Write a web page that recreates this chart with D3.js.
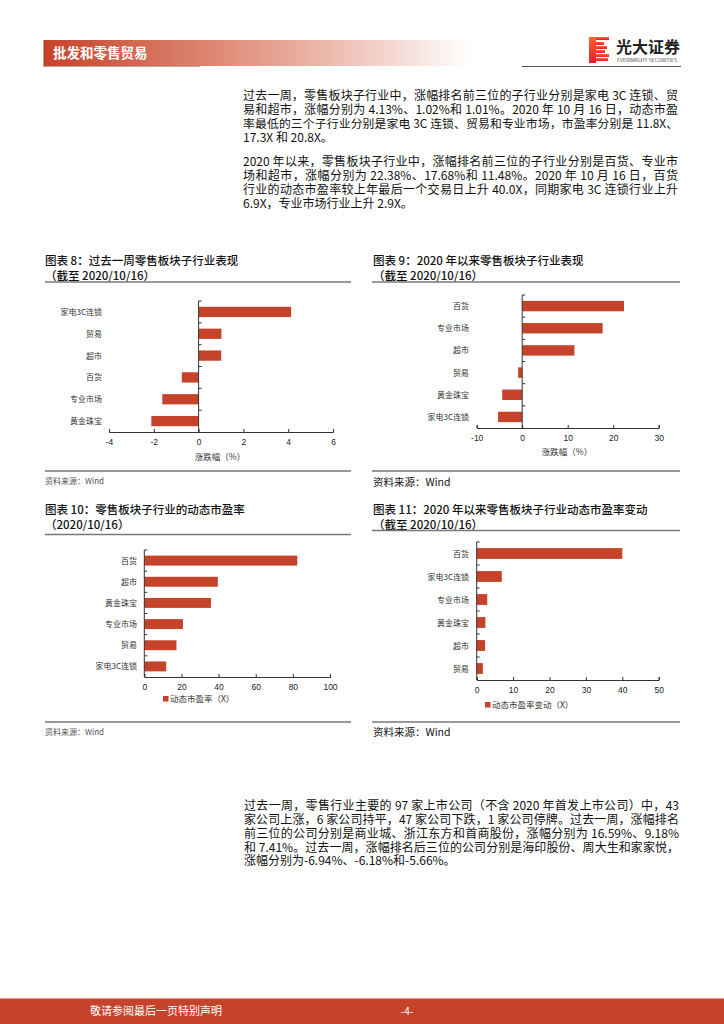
<!DOCTYPE html>
<html><head><meta charset="utf-8">
<script src="https://cdn.jsdelivr.net/npm/d3@7"></script>
<style>
body{margin:0;background:#fff;position:relative;width:724px;height:1024px;overflow:hidden;}
svg{display:block;font-family:"Noto Sans CJK SC","Noto Sans",sans-serif;}
.pline{position:absolute;width:435px;height:13.9px;line-height:13.9px;font-size:12px;color:#111;
  font-family:"Noto Sans CJK SC","Noto Sans",sans-serif;white-space:nowrap;text-align:left;}
.pline.just{text-align:justify;text-align-last:justify;text-justify:inter-character;}
</style></head><body>
<svg id="page" width="724" height="1024"></svg>
<script>
// ---------- data ----------
const weekCategories = ["家电3C连锁","贸易","超市","百货","专业市场","黄金珠宝"];
const weekChange = [4.13, 1.02, 1.01, -0.75, -1.62, -2.11];
const weekTicks = [-4, -2, 0, 2, 4, 6];

const ytdCategories = ["百货","专业市场","超市","贸易","黄金珠宝","家电3C连锁"];
const ytdChange = [22.38, 17.68, 11.48, -0.9, -4.4, -5.3];
const ytdTicks = [-10, 0, 10, 20, 30];

const peCategories = ["百货","超市","黄金珠宝","专业市场","贸易","家电3C连锁"];
const peValues = [82.4, 39.6, 35.9, 20.8, 17.3, 11.8];
const peTicks = [0, 20, 40, 60, 80, 100];

const peChangeCategories = ["百货","家电3C连锁","专业市场","黄金珠宝","超市","贸易"];
const peChangeValues = [40.0, 6.9, 2.9, 2.4, 2.3, 1.7];
const peChangeTicks = [0, 10, 20, 30, 40, 50];

const para1 = [
  "过去一周，零售板块子行业中，涨幅排名前三位的子行业分别是家电 3C 连锁、贸",
  "易和超市，涨幅分别为 4.13%、1.02%和 1.01%。2020 年 10 月 16 日，动态市盈",
  "率最低的三个子行业分别是家电 3C 连锁、贸易和专业市场，市盈率分别是 11.8X、",
  "17.3X 和 20.8X。"
];
const para2 = [
  "2020 年以来，零售板块子行业中，涨幅排名前三位的子行业分别是百货、专业市",
  "场和超市，涨幅分别为 22.38%、17.68%和 11.48%。2020 年 10 月 16 日，百货",
  "行业的动态市盈率较上年最后一个交易日上升 40.0X，同期家电 3C 连锁行业上升",
  "6.9X，专业市场行业上升 2.9X。"
];
const para3 = [
  "过去一周，零售行业主要的 97 家上市公司（不含 2020 年首发上市公司）中，43",
  "家公司上涨，6 家公司持平，47 家公司下跌，1 家公司停牌。过去一周，涨幅排名",
  "前三位的公司分别是商业城、浙江东方和首商股份，涨幅分别为 16.59%、9.18%",
  "和 7.41%。过去一周，涨幅排名后三位的公司分别是海印股份、周大生和家家悦，",
  "涨幅分别为-6.94%、-6.18%和-5.66%。"
];

// ---------- page ----------
const RED = "#C5432A";
const svg = d3.select("#page");
const defs = svg.append("defs");
const grad = defs.append("linearGradient").attr("id","hdr").attr("x1","0").attr("x2","1").attr("y1","0").attr("y2","0");
[[0,"#C4432A"],[0.35,"#DA806A"],[0.65,"#EBB7A9"],[0.85,"#F6E0DA"],[1,"#FFFFFF"]].forEach(s=>grad.append("stop").attr("offset",s[0]).attr("stop-color",s[1]));
const lg = defs.append("linearGradient").attr("id","logo").attr("x1","0").attr("x2","0").attr("y1","0").attr("y2","1");
[[0,"#F26B2A"],[1,"#E0202A"]].forEach(s=>lg.append("stop").attr("offset",s[0]).attr("stop-color",s[1]));

// header
svg.append("rect").attr("x",44).attr("y",40).attr("width",428).attr("height",26).attr("fill","url(#hdr)");
svg.append("line").attr("x1",44).attr("x2",44).attr("y1",40).attr("y2",66).attr("stroke","#A8301C").attr("stroke-width",1);
svg.append("line").attr("x1",43).attr("x2",200).attr("y1",66.5).attr("y2",66.5).attr("stroke","#8a6a60").attr("stroke-width",0.6);
svg.append("text").attr("x",53).attr("y",58).attr("fill","#fff").attr("font-size",13.5).attr("font-weight",700).text("批发和零售贸易");

// logo
const logo = svg.append("g");
logo.append("rect").attr("x",589).attr("y",37).attr("width",7).attr("height",26).attr("fill","url(#logo)");
[[37,17],[42,12],[46,15],[50,13],[54,17],[58,16]].forEach(r=>{
  logo.append("rect").attr("x",596).attr("y",r[0]).attr("width",r[1]-4).attr("height",3).attr("fill","url(#logo)");
});
logo.append("text").attr("x",616).attr("y",53).attr("font-size",16).attr("font-weight",700).attr("fill","#222").text("光大证券");
logo.append("text").attr("x",617).attr("y",61.5).attr("font-size",4.2).attr("fill","#444").attr("textLength",60).attr("lengthAdjust","spacingAndGlyphs").text("EVERBRIGHT SECURITIES");
svg.append("line").attr("x1",522).attr("x2",681).attr("y1",66.5).attr("y2",66.5).attr("stroke","#555").attr("stroke-width",1.2);

// paragraphs as HTML line boxes (justified, line box = line pitch)
function paragraph(lines, x, baseline0, dy, width){
  lines.forEach((t,i)=>{
    const div = d3.select("body").append("div").attr("class","pline" + (i < lines.length-1 ? " just" : ""))
      .style("left", x+"px").style("top", (baseline0 + i*dy - 12.2)+"px");
    const span = div.append("span").text(t);
    const w = span.node().getBoundingClientRect().width;
    if(w > width) div.style("font-size", (12*width/w*0.99)+"px");
    span.remove();
    div.text(t);
  });
}
paragraph(para1, 243, 100, 13.9, 435);
paragraph(para2, 243, 166, 13.9, 435);
paragraph(para3, 244, 810, 13.9, 435);

// chart frame text
function frame(o){
  o.titles.forEach((t,i)=>svg.append("text").attr("x",o.tx).attr("y",o.ty+i*14.5).attr("font-size",11.5).attr("font-weight",500).attr("fill","#111").text(t));
  svg.append("line").attr("x1",o.rx0).attr("x2",o.rx1).attr("y1",o.ruleTop).attr("y2",o.ruleTop).attr("stroke","#777").attr("stroke-width",1.3);
  svg.append("line").attr("x1",o.rx0).attr("x2",o.rx1).attr("y1",o.ruleBot).attr("y2",o.ruleBot).attr("stroke","#777").attr("stroke-width",1.3);
  svg.append("text").attr("x",o.tx).attr("y",o.srcY).attr("font-size",o.srcSize).attr("fill",o.srcColor).text("资料来源：Wind");
}

function barChart(o){
  const g = svg.append("g");
  const x = d3.scaleLinear().domain([o.ticks[0], o.ticks[o.ticks.length-1]]).range([o.x0, o.x1]);
  const y = d3.scaleBand().domain(o.cats).range([o.yTop, o.yBot]).paddingInner(0.53).paddingOuter(0.265);
  g.selectAll("rect.bar").data(o.vals).enter().append("rect")
    .attr("x",(d)=>x(Math.min(0,d)))
    .attr("y",(d,i)=>y(o.cats[i]))
    .attr("width",(d)=>Math.abs(x(d)-x(0)))
    .attr("height",y.bandwidth())
    .attr("fill",RED);
  // x axis
  const ax = g.append("g").attr("transform",`translate(0,${o.yBot})`)
    .call(d3.axisBottom(x).tickValues(o.ticks).tickSizeInner(-3).tickSizeOuter(-3).tickPadding(7).tickFormat(d=>String(d)));
  ax.select(".domain").attr("stroke","#333");
  ax.selectAll(".tick line").attr("stroke","#333");
  ax.selectAll("text").attr("font-size",8.5).attr("fill","#222").attr("font-family",'"Liberation Sans",Arial,sans-serif');
  // y axis at zero
  const zx = x(0);
  g.append("line").attr("x1",zx).attr("x2",zx).attr("y1",o.yTop).attr("y2",o.yBot).attr("stroke","#333");
  const step = y.step();
  for(let i=0;i<o.cats.length;i++){
    const yy = o.yTop + i*step;
    g.append("line").attr("x1",zx).attr("x2",zx+3).attr("y1",yy).attr("y2",yy).attr("stroke","#333");
  }
  // category labels
  g.selectAll("text.cat").data(o.cats).enter().append("text")
    .attr("x",o.labelX).attr("y",(d)=>y(d)+y.bandwidth()/2+3)
    .attr("text-anchor","end").attr("font-size",8).attr("fill","#333").text(d=>d);
  if(o.axisTitle){
    g.append("text").attr("x",o.axisTitle.x).attr("y",o.axisTitle.y).attr("text-anchor","middle")
      .attr("font-size",8.5).attr("fill","#333").text(o.axisTitle.text);
  }
  if(o.legend){
    g.append("rect").attr("x",o.legend.x).attr("y",o.legend.y-3).attr("width",5.5).attr("height",5.5).attr("fill",RED);
    g.append("text").attr("x",o.legend.x+7).attr("y",o.legend.y+3).attr("font-size",8.5).attr("fill","#333").text(o.legend.text);
  }
}

// Chart 8
frame({titles:["图表 8：过去一周零售板块子行业表现","（截至 2020/10/16）"],tx:45,ty:265,rx0:45,rx1:351,ruleTop:282,ruleBot:471,srcY:484,srcSize:8,srcColor:"#555"});
barChart({cats:weekCategories,vals:weekChange,ticks:weekTicks,x0:109,x1:333,yTop:301,yBot:432,labelX:102,
  axisTitle:{x:220,y:460,text:"涨跌幅（%）"}});

// Chart 9
frame({titles:["图表 9：2020 年以来零售板块子行业表现","（截至 2020/10/16）"],tx:373,ty:265,rx0:372,rx1:680,ruleTop:282,ruleBot:471,srcY:486,srcSize:10.5,srcColor:"#111"});
barChart({cats:ytdCategories,vals:ytdChange,ticks:ytdTicks,x0:476.7,x1:658.7,yTop:295,yBot:428,labelX:469,
  axisTitle:{x:567,y:455,text:"涨跌幅（%）"}});

// Chart 10
frame({titles:["图表 10：零售板块子行业的动态市盈率","（2020/10/16）"],tx:45,ty:514,rx0:45,rx1:351,ruleTop:534.5,ruleBot:722,srcY:735,srcSize:8,srcColor:"#555"});
barChart({cats:peCategories,vals:peValues,ticks:peTicks,x0:144.3,x1:330,yTop:550,yBot:677,labelX:137,
  legend:{x:163,y:699,text:"动态市盈率（X）"}});

// Chart 11
frame({titles:["图表 11：2020 年以来零售板块子行业动态市盈率变动","（截至 2020/10/16）"],tx:373,ty:514,rx0:372,rx1:680,ruleTop:530.5,ruleBot:722,srcY:736,srcSize:10.5,srcColor:"#111"});
barChart({cats:peChangeCategories,vals:peChangeValues,ticks:peChangeTicks,x0:476.7,x1:658.7,yTop:542,yBot:680,labelX:469,
  legend:{x:485,y:705,text:"动态市盈率变动（X）"}});

// footer
svg.append("rect").attr("x",0).attr("y",998).attr("width",724).attr("height",26).attr("fill",RED);
svg.append("line").attr("x1",0).attr("x2",724).attr("y1",998.5).attr("y2",998.5).attr("stroke","#E59A86").attr("stroke-width",1);
svg.append("text").attr("x",90).attr("y",1015).attr("font-size",11).attr("fill","#fff").text("敬请参阅最后一页特别声明");
svg.append("text").attr("x",407).attr("y",1015).attr("font-size",10).attr("text-anchor","middle").attr("fill","#fff").text("-4-");
</script>
</body></html>
